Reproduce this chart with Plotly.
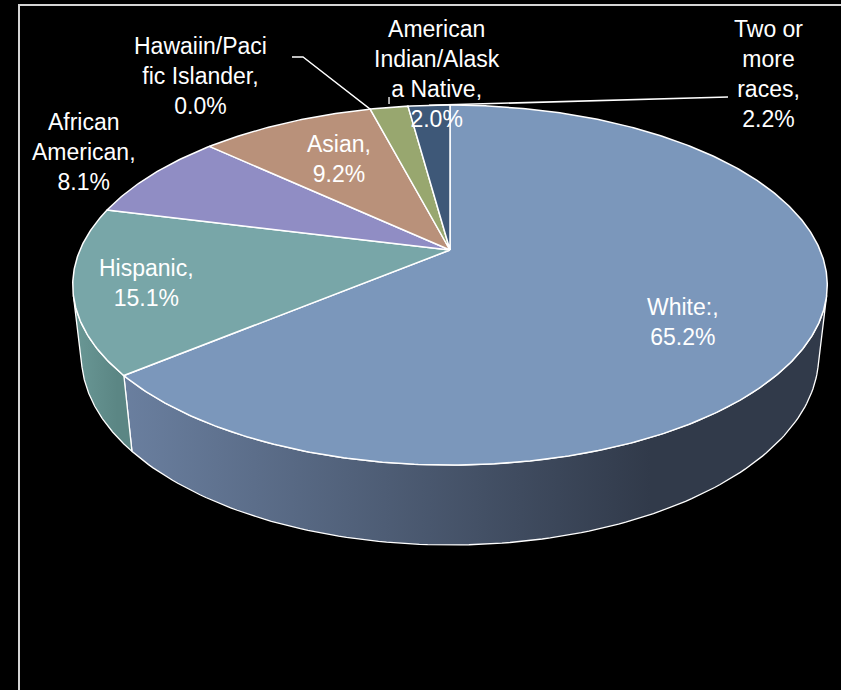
import numpy as np
import plotly.graph_objects as go

# ---------------- data ----------------
categories = ["White:", "Hispanic", "African American", "Asian",
              "Hawaiin/Pacific Islander", "American Indian/Alaska Native",
              "Two or more races"]
values = [65.2, 15.1, 8.1, 9.2, 0.0, 2.0, 2.2]
wrapped_names = ["White:", "Hispanic", "African<br>American", "Asian",
                 "Hawaiin/Paci<br>fic Islander", "American<br>Indian/Alask<br>a Native",
                 "Two or<br>more<br>races"]

# ---------------- style ----------------
top_colors = ["#7b97bb", "#78a6a8", "#908dc4", "#b9917a", "#8aa0c0", "#98a76f", "#3e5878"]
side_colors = [("#6a7f9f", "#313a4a"), ("#6a9896", "#5b8684"), ("#6e6b98", "#6e6b98"),
               ("#8f705e", "#8f705e"), ("#6a7c96", "#6a7c96"), ("#76825a", "#76825a"),
               ("#2f435c", "#2f435c")]
FONT = "Liberation Sans, Arial, sans-serif"
label_pos = [(683, 322), (146, 283), (84, 152), (339, 159), (200, 76), (437, 74), (768, 74)]

# ---------------- 3-D projection of the pie disc ----------------
CX, CY = 450.0, 250.0
K, D = 1680.0, 4.54
SPHI, CPHI = 0.468, 0.884
THICK = 0.217


def proj(theta_deg, h=0.0, r=1.0):
    th = np.radians(theta_deg)
    X = r * np.cos(th)
    Z = r * np.sin(th)
    yv = h * CPHI + Z * SPHI
    d = D + Z * CPHI - h * SPHI
    return CX + K * X / d, CY - K * yv / d


total = sum(values)
starts, ends = [], []
cum = 0.0
for v in values:
    a0 = 90 - cum / total * 360
    cum += v
    a1 = 90 - cum / total * 360
    starts.append(a0)
    ends.append(a1)

# silhouette tangent angles of the cylinder side as seen from the camera
L = D * CPHI
tang = np.degrees(np.arccos(1.0 / L))
vis_lo, vis_hi = -90 - tang, -90 + tang

fig = go.Figure()

# sides (front part of the cylinder wall)
for i, v in enumerate(values):
    lo = max(ends[i], vis_lo)
    hi = min(starts[i], vis_hi)
    if hi <= lo:
        continue
    angs = np.linspace(hi, lo, 120)
    tx, ty = proj(angs, 0.0)
    bx, by = proj(angs[::-1], -THICK)
    xs = np.concatenate([tx, bx, tx[:1]])
    ys = np.concatenate([ty, by, ty[:1]])
    c1, c2 = side_colors[i]
    fig.add_trace(go.Scatter(
        x=xs, y=ys, mode="lines", fill="toself",
        fillgradient=dict(type="horizontal",
                          colorscale=[[0, c1], [0.75, c2], [1, c2]]),
        line=dict(color="white", width=1.3),
        hoverinfo="skip", showlegend=False))

# top faces
for i, v in enumerate(values):
    if v <= 0:
        continue
    n = max(int(abs(starts[i] - ends[i]) * 2), 4)
    angs = np.linspace(starts[i], ends[i], n)
    ax, ay = proj(angs, 0.0)
    xs = np.concatenate([[CX], ax, [CX]])
    ys = np.concatenate([[CY], ay, [CY]])
    fig.add_trace(go.Scatter(
        x=xs, y=ys, mode="lines", fill="toself", fillcolor=top_colors[i],
        line=dict(color="white", width=1.5),
        hoverinfo="skip", showlegend=False, name=categories[i]))

# leader lines
hx, hy = proj(ends[3], 0.0)
fig.add_trace(go.Scatter(x=[292, 303, hx], y=[57, 57, hy], mode="lines",
                         line=dict(color="white", width=1.3),
                         hoverinfo="skip", showlegend=False))
mx, my = proj((starts[5] + ends[5]) / 2, 0.0)
fig.add_trace(go.Scatter(x=[mx, mx], y=[97, 104], mode="lines",
                         line=dict(color="white", width=1.3),
                         hoverinfo="skip", showlegend=False))
tx2, ty2 = proj((starts[6] + ends[6]) / 2, 0.0)
fig.add_trace(go.Scatter(x=[tx2, 728], y=[ty2, 97], mode="lines",
                         line=dict(color="white", width=1.6),
                         hoverinfo="skip", showlegend=False))

# data labels
annotations = []
for i, v in enumerate(values):
    x, y = label_pos[i]
    annotations.append(dict(
        x=x, y=y, xref="x", yref="y", showarrow=False,
        text=f"{wrapped_names[i]},<br>{v:.1f}%",
        font=dict(family=FONT, size=23, color="white"),
        align="center", xanchor="center", yanchor="middle"))

fig.update_layout(
    width=841, height=690,
    margin=dict(l=0, r=0, t=0, b=0),
    paper_bgcolor="black", plot_bgcolor="black",
    xaxis=dict(range=[0, 841], visible=False, fixedrange=True),
    yaxis=dict(range=[690, 0], visible=False, fixedrange=True),
    annotations=annotations,
    shapes=[dict(type="rect", xref="x", yref="y", x0=19, y0=5, x1=850, y1=700,
                 line=dict(color="#d4d4d4", width=2), layer="below")],
    showlegend=False,
)

fig.write_html("out.html")
